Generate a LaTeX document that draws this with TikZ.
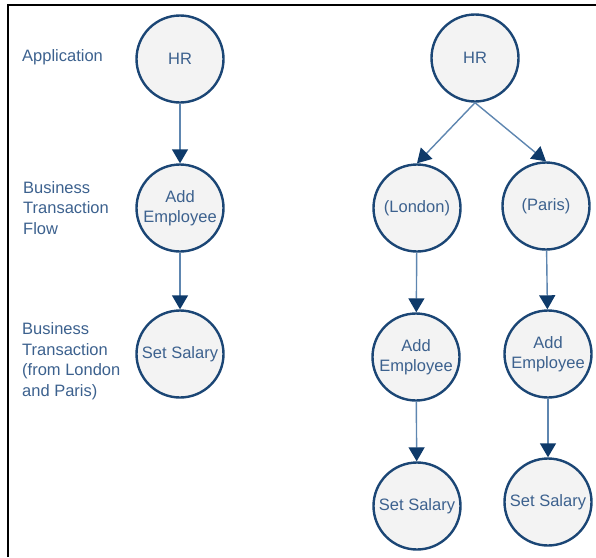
\documentclass[tikz,border=0pt]{standalone}
\usepackage{fontspec}
\setmainfont{Liberation Sans}
\usetikzlibrary{arrows.meta}
\definecolor{navy}{HTML}{1B4675}
\definecolor{tipnavy}{HTML}{0E3A6A}
\definecolor{linkblue}{HTML}{5E86B0}
\definecolor{txtblue}{HTML}{3C618E}
\definecolor{circfill}{HTML}{F3F3F3}
\tikzset{
  stage/.style={circle, draw=navy, line width=2.4pt, fill=circfill, minimum size=87pt, inner sep=0pt,
    text=txtblue, font=\fontsize{16.5}{20}\selectfont, align=center},
  lvl/.style={anchor=west, text=txtblue, font=\fontsize{16.5}{20.5}\selectfont, align=left, inner sep=0pt},
  link/.style={draw=linkblue, line width=1.4pt, -{Triangle[length=14pt,width=16pt,color=tipnavy]}},
}
\begin{document}
\begin{tikzpicture}[x=1pt,y=-1pt]
\useasboundingbox (0,0) rectangle (596,557);
\draw[line width=2pt, black] (8,557) -- (8,5) -- (596,5);
\node[lvl] (lapp) at (22,57) {Application};
\node[lvl] (lflow) at (23,208) {Business\\Transaction\\Flow};
\node[lvl] (ltx) at (22,361) {Business\\Transaction\\(from London\\and Paris)};
\node[stage] (hrL) at (180,59) {HR};
\node[stage] (addL) at (180,208) {Add\\Employee};
\node[stage] (setL) at (180,354) {Set Salary};
\node[stage] (hrR) at (475,58) {HR};
\node[stage] (lon) at (417,208) {(London)};
\node[stage] (par) at (546,206) {(Paris)};
\node[stage] (addLon) at (416,357) {Add\\Employee};
\node[stage] (addPar) at (548,354) {Add\\Employee};
\node[stage] (setLon) at (417,506) {Set Salary};
\node[stage] (setPar) at (548,502) {Set Salary};
\draw[link] (hrL) -- (addL);
\draw[link] (addL) -- (setL);
\draw[link] (hrR.south) -- (lon.north);
\draw[link] (hrR.south) -- (par.north);
\draw[link] (lon) -- (addLon);
\draw[link] (par) -- (addPar);
\draw[link] (addLon) -- (setLon);
\draw[link] (addPar) -- (setPar);
\end{tikzpicture}
\end{document}
